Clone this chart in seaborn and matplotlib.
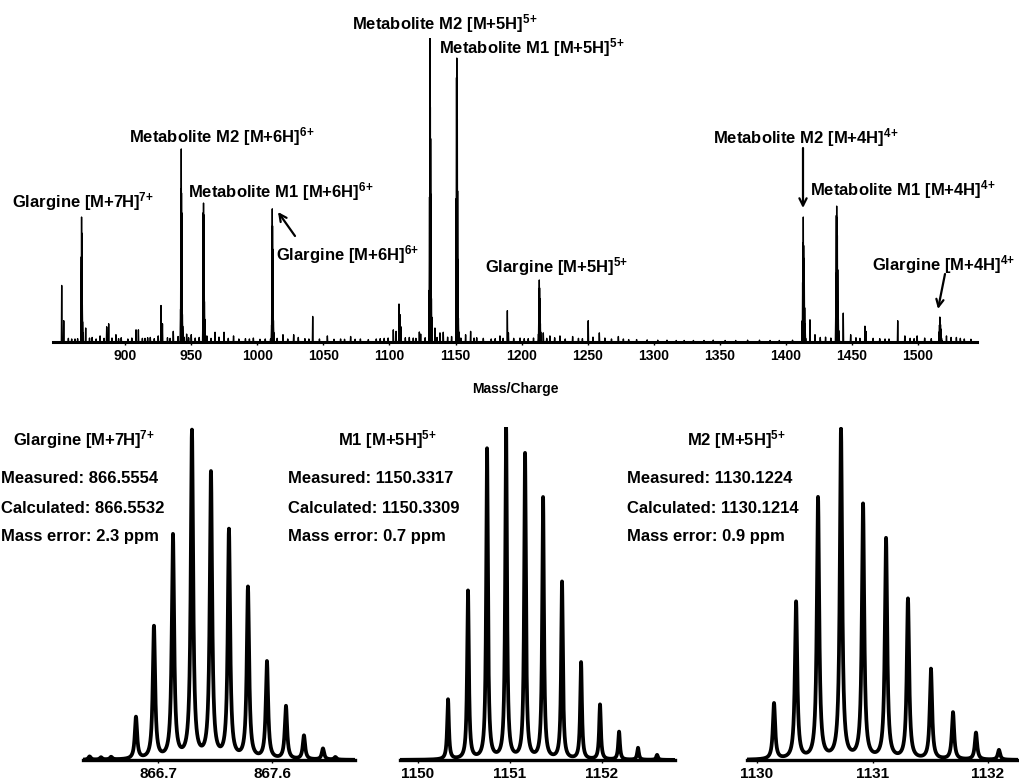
import numpy as np
import pandas as pd
import matplotlib
matplotlib.use("Agg")
import matplotlib.pyplot as plt
import seaborn as sns

# ---------------- data ----------------
# isotope envelopes (relative intensity, %)
glargine_iso_mz = [866.526, 866.668, 866.818, 866.968, 867.118, 867.260, 867.410, 867.560, 867.710, 867.852, 868.002]
glargine_iso_int = [12.8, 40.4, 68.2, 100, 87.2, 69.7, 52.3, 29.7, 16.2, 7.3, 3.4]
m1_iso_mz = [1150.326, 1150.543, 1150.750, 1150.957, 1151.163, 1151.359, 1151.565, 1151.772, 1151.978, 1152.185, 1152.391, 1152.598]
m1_iso_int = [18.0, 50.5, 93.1, 100, 91.6, 78.4, 53.2, 29.1, 16.5, 8.4, 3.6, 1.5]
m2_iso_mz = [1130.147, 1130.338, 1130.528, 1130.727, 1130.918, 1131.117, 1131.307, 1131.506, 1131.697, 1131.896, 1132.095]
m2_iso_int = [17.0, 47.7, 79.3, 100, 77.2, 66.9, 48.6, 27.4, 14.3, 8.2, 3.0]

# small baseline bumps seen in the zoom panels
glargine_noise_mz = [866.16, 866.25, 866.33, 868.10]
glargine_noise_int = [1.0, 0.7, 0.8, 0.8]

# labelled ions in the full spectrum: monoisotopic m/z, charge, apex intensity (%)
ion_species = ["Glargine", "Glargine", "Glargine", "Glargine", "M1", "M1", "M1", "M2", "M2", "M2"]
ion_charge = [7, 6, 5, 4, 6, 5, 4, 6, 5, 4]
ion_mono_mz = [866.5554, 1010.8146, 1212.7760, 1515.7182, 958.7768, 1150.3317, 1437.6627, 941.9366, 1130.1224, 1412.4012]
ion_apex = [41.1, 43.8, 20.4, 8.2, 45.7, 93.4, 44.7, 63.5, 100.0, 41.1]

# other (unlabelled) peaks of the full spectrum
minor_mz = [851.95, 853.5, 870.1, 881.0, 886.0, 887.5, 893.0, 908.2, 910.0, 925.0, 927.1, 928.2,
            936.4, 946.5, 950.0, 961.8, 968.0, 974.8, 982.0, 997.0, 1019.4, 1027.5, 1041.9,
            1053.0, 1070.6, 1102.9, 1105.0, 1107.2, 1108.0, 1108.7, 1122.6, 1123.6, 1134.4,
            1138.2, 1140.7, 1157.6, 1161.4, 1183.6, 1189.2, 1190.0, 1198.8, 1216.4, 1221.4,
            1229.0, 1238.6, 1250.4, 1258.8, 1273.2, 1281.0, 1317.0, 1418.2, 1422.0, 1426.0,
            1443.4, 1449.0, 1459.8, 1460.6, 1484.6, 1490.0, 1499.3, 1521.5, 1529.0]
minor_int = [18.6, 7.0, 4.6, 2.0, 5.0, 6.0, 2.4, 4.0, 4.0, 2.0, 12.0, 6.0,
             3.5, 2.6, 2.4, 2.0, 3.2, 3.2, 2.0, 1.3, 2.4, 2.4, 8.4,
             2.0, 1.8, 4.0, 3.5, 12.5, 9.0, 5.0, 3.3, 2.6, 4.6,
             3.0, 3.2, 2.4, 3.5, 2.0, 10.3, 3.0, 1.3, 3.0, 2.0,
             2.0, 1.8, 7.0, 3.0, 1.8, 0.8, 0.5, 7.3, 2.4, 1.5,
             9.5, 2.4, 5.2, 3.5, 7.0, 2.0, 2.0, 2.0, 1.5]
grass_mz = [857, 859.5, 862, 864, 873, 875, 878, 884, 890, 895, 897, 902, 905, 913, 915, 917, 919,
            922, 932, 934, 940, 944.5, 948, 953, 956, 965, 971, 978, 986, 991, 994, 1002, 1006,
            1010.0, 1015, 1023, 1031, 1036, 1039, 1047, 1058, 1063, 1066, 1074, 1078, 1084,
            1090, 1093, 1096, 1099, 1112, 1115, 1118, 1120, 1127, 1136, 1144, 1147, 1154, 1164,
            1166, 1171, 1177, 1180, 1186, 1194, 1202, 1205, 1209, 1219, 1225, 1233, 1243, 1246,
            1254, 1263, 1268, 1277, 1287, 1295, 1303, 1310, 1323, 1330, 1338, 1345, 1354, 1362,
            1371, 1380, 1388, 1395, 1405, 1430, 1434, 1453, 1456, 1466, 1471, 1475, 1478, 1494,
            1497, 1505, 1510, 1525, 1532, 1535, 1540]
grass_int = [1.2, 1.0, 1.0, 1.1, 1.3, 1.5, 1.0, 1.2, 1.3, 1.1, 1.4, 1.0, 1.3, 1.2, 1.2, 1.4, 1.5,
             1.1, 1.4, 1.2, 1.8, 1.6, 1.4, 1.3, 1.5, 1.2, 1.6, 1.2, 1.0, 1.1, 1.0, 0.9, 1.0,
             1.0, 1.2, 1.0, 1.5, 1.1, 1.0, 1.0, 0.9, 1.0, 0.9, 0.9, 1.0, 0.8,
             1.0, 1.1, 1.2, 1.3, 1.4, 1.5, 1.3, 1.2, 1.4, 1.5, 1.6, 1.8, 1.3, 1.3,
             1.4, 1.2, 1.0, 1.1, 1.2, 1.2, 1.1, 1.1, 1.3, 1.2, 1.4, 1.0, 1.2, 1.1,
             1.6, 1.3, 1.0, 1.0, 0.8, 0.7, 0.6, 0.6, 0.5, 0.5, 0.5, 0.6, 0.5, 0.5,
             0.6, 0.6, 0.5, 0.5, 0.6, 1.6, 1.3, 1.4, 1.2, 1.2, 1.1, 1.0, 1.0, 1.2,
             1.1, 1.3, 1.1, 1.5, 1.2, 1.0, 0.9]

top_ticks = [900, 950, 1000, 1050, 1100, 1150, 1200, 1250, 1300, 1350, 1400, 1450, 1500]
glargine_ticks = [866.7, 867.6]
glargine_ticklabels = ["866.7", "867.6"]
m1_ticks = [1150, 1151, 1152]
m2_ticks = [1130, 1131, 1132]

top_labels = ["Glargine [M+7H]", "Metabolite M2 [M+6H]", "Metabolite M1 [M+6H]", "Glargine [M+6H]",
              "Metabolite M2 [M+5H]", "Metabolite M1 [M+5H]", "Glargine [M+5H]",
              "Metabolite M2 [M+4H]", "Metabolite M1 [M+4H]", "Glargine [M+4H]"]
top_label_charges = ["7+", "6+", "6+", "6+", "5+", "5+", "5+", "4+", "4+", "4+"]

panel_titles = ["Glargine [M+7H]", "M1 [M+5H]", "M2 [M+5H]"]
panel_charges = ["7+", "5+", "5+"]
panel_measured = ["866.5554", "1150.3317", "1130.1224"]
panel_calculated = ["866.5532", "1150.3309", "1130.1214"]
panel_error = ["2.3", "0.7", "0.9"]

# ---------------- style ----------------
sns.set_theme(style="white")
plt.rcParams["font.family"] = ["Liberation Sans", "DejaVu Sans"]
plt.rcParams["font.weight"] = "bold"
plt.rcParams["text.color"] = "black"
plt.rcParams["axes.labelcolor"] = "black"
plt.rcParams["xtick.color"] = "black"
plt.rcParams["ytick.color"] = "black"
plt.rcParams["mathtext.fontset"] = "custom"
plt.rcParams["mathtext.rm"] = "Liberation Sans:bold"
plt.rcParams["mathtext.bf"] = "Liberation Sans:bold"
plt.rcParams["mathtext.it"] = "Liberation Sans:bold"

W, H = 1019, 780
fig = plt.figure(figsize=(W / 100, H / 100), dpi=100)
fig.patch.set_facecolor("white")


def px_axes(left, right, top, bottom):
    return fig.add_axes([left / W, 1 - bottom / H, (right - left) / W, (bottom - top) / H])


def fpos(x, y):
    return (x / W, 1 - y / H)


def sup(base, charge):
    return base + r"$^{\mathbf{" + charge.replace("+", r"\!+") + "}}$"


# ---------------- full spectrum ----------------
envelopes = {"Glargine": glargine_iso_int, "M1": m1_iso_int, "M2": m2_iso_int}
sticks = []
for sp, z, mono, apex in zip(ion_species, ion_charge, ion_mono_mz, ion_apex):
    env = envelopes[sp]
    for k, rel in enumerate(env):
        sticks.append((mono + k * 1.00335 / z, apex * rel / 100.0))
for m, h in zip(minor_mz, minor_int):
    sticks.append((m, h))
for m, h in zip(grass_mz, grass_int):
    sticks.append((m, h))
sticks.sort()
xs, ys = [845.0], [0.0]
hw = 0.25
for m, h in sticks:
    xs += [m - hw, m, m + hw]
    ys += [0.0, h, 0.0]
xs.append(1545.0)
ys.append(0.0)
spec = pd.DataFrame({"mz": xs, "intensity": ys})

ax0 = px_axes(53, 977, 38, 342)
sns.lineplot(data=spec, x="mz", y="intensity", sort=False, estimator=None,
             color="black", linewidth=1.0, ax=ax0)
ax0.set_xlim(845.37, 1544.6)
ax0.set_ylim(0, 100)
ax0.set_xticks(top_ticks)
ax0.set_xticklabels([str(t) for t in top_ticks])
ax0.set_yticks([])
ax0.set_ylabel("")
ax0.set_xlabel("Mass/Charge", fontsize=10, fontweight="bold", labelpad=14, color="black")
ax0.tick_params(axis="x", labelsize=10, length=2, width=1, pad=3, color="black",
                labelcolor="black", bottom=True)
for s in ["left", "right", "top"]:
    ax0.spines[s].set_visible(False)
ax0.spines["bottom"].set_color("black")
ax0.spines["bottom"].set_linewidth(2.2)
ax0.set_facecolor("none")

top_pos = [(12, 207), (129, 142), (188, 197), (276, 260), (352, 29), (439, 53),
           (485, 272), (713, 143), (810, 195), (872, 270)]
for (x, y), base, ch in zip(top_pos, top_labels, top_label_charges):
    fig.text(*fpos(x, y), sup(base, ch), fontsize=12, fontweight="bold",
             ha="left", va="baseline", color="black")

arrow_kw = dict(arrowstyle="->", lw=1.6, color="black", mutation_scale=13, shrinkA=0, shrinkB=0)
for start, end in [((295, 236), (278, 212)), ((803, 148), (803, 208)), ((945, 274), (938, 309))]:
    fig.add_artist(matplotlib.patches.FancyArrowPatch(fpos(*start), fpos(*end),
                                                      transform=fig.transFigure, **arrow_kw))

# ---------------- zoom panels ----------------
panels = [
    dict(mz=glargine_iso_mz + glargine_noise_mz, inten=glargine_iso_int + glargine_noise_int,
         box=(83, 355), xlim=(866.108, 868.255),
         ticks=glargine_ticks, labels=glargine_ticklabels, maxpx=327, hw=0.011),
    dict(mz=m1_iso_mz, inten=m1_iso_int, box=(400, 675), xlim=(1149.804, 1152.793),
         ticks=m1_ticks, labels=[str(t) for t in m1_ticks], maxpx=333, hw=0.011),
    dict(mz=m2_iso_mz, inten=m2_iso_int, box=(747, 1018), xlim=(1129.913, 1132.26),
         ticks=m2_ticks, labels=[str(t) for t in m2_ticks], maxpx=329, hw=0.012),
]
for p in panels:
    ax = px_axes(p["box"][0], p["box"][1], 427, 760)
    grid = np.linspace(p["xlim"][0], p["xlim"][1], 6000)
    prof = np.zeros_like(grid)
    for c, h in zip(p["mz"], p["inten"]):
        prof += h / (1.0 + ((grid - c) / p["hw"]) ** 2)
    dfp = pd.DataFrame({"mz": grid, "intensity": prof})
    sns.lineplot(data=dfp, x="mz", y="intensity", color="black", linewidth=2.7,
                 estimator=None, ax=ax)
    ax.set_xlim(*p["xlim"])
    ax.set_ylim(0, 100 * 333 / p["maxpx"])
    ax.set_xticks(p["ticks"])
    ax.set_xticklabels(p["labels"])
    ax.set_yticks([])
    ax.set_xlabel("")
    ax.set_ylabel("")
    ax.tick_params(axis="x", labelsize=11, length=2, width=1, pad=3, color="black",
                   labelcolor="black", bottom=True)
    for s in ["left", "right", "top"]:
        ax.spines[s].set_visible(False)
    ax.spines["bottom"].set_color("black")
    ax.spines["bottom"].set_linewidth(2.4)
    ax.set_facecolor("none")

title_x = [13, 338, 687]
line_x = [1, 288, 627]
for i in range(3):
    fig.text(*fpos(title_x[i], 445), sup(panel_titles[i], panel_charges[i]), fontsize=12,
             fontweight="bold", ha="left", va="baseline", color="black")
    fig.text(*fpos(line_x[i], 483), "Measured: " + panel_measured[i], fontsize=12,
             fontweight="bold", ha="left", va="baseline", color="black")
    fig.text(*fpos(line_x[i], 513), "Calculated: " + panel_calculated[i], fontsize=12,
             fontweight="bold", ha="left", va="baseline", color="black")
    fig.text(*fpos(line_x[i], 541), "Mass error: " + panel_error[i] + " ppm", fontsize=12,
             fontweight="bold", ha="left", va="baseline", color="black")

fig.savefig("out.png", dpi=100, facecolor="white")
